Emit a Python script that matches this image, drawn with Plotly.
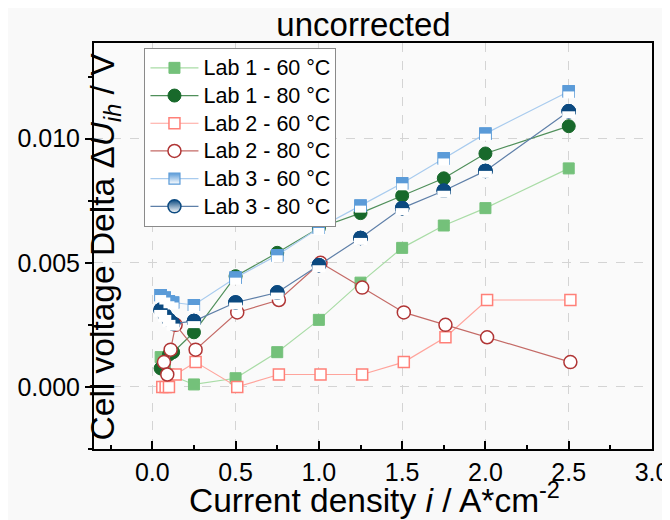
import plotly.graph_objects as go

# ---------------- data ----------------
i_lab1_60 = [0.05, 0.075, 0.1, 0.25, 0.5, 0.75, 1.0, 1.25, 1.5, 1.75, 2.0, 2.5]
u_lab1_60 = [0.0012, 0.0007, 0.0005, 0.0001, 0.00035, 0.0014, 0.0027, 0.0042, 0.0056, 0.0065, 0.0072, 0.0088]

i_lab1_80 = [0.05, 0.1, 0.125, 0.25, 0.5, 0.75, 1.0, 1.25, 1.5, 1.75, 2.0, 2.5]
u_lab1_80 = [0.00075, 0.0013, 0.0014, 0.0022, 0.00446, 0.0054, 0.0064, 0.0070, 0.0077, 0.0084, 0.0094, 0.0105]

i_lab2_60 = [0.06, 0.08, 0.1, 0.14, 0.26, 0.51, 0.76, 1.01, 1.26, 1.51, 1.76, 2.01, 2.51]
u_lab2_60 = [0.0, 0.0, 0.0, 0.0005, 0.001, 0.0, 0.0005, 0.0005, 0.0005, 0.001, 0.002, 0.0035, 0.0035]

i_lab2_80 = [0.07, 0.09, 0.11, 0.14, 0.26, 0.51, 0.76, 1.01, 1.26, 1.51, 1.76, 2.01, 2.51]
u_lab2_80 = [0.001, 0.0005, 0.0015, 0.0025, 0.0015, 0.003, 0.0035, 0.005, 0.004, 0.003, 0.0025, 0.002, 0.001]

i_lab3 = [0.05, 0.075, 0.1, 0.125, 0.25, 0.5, 0.75, 1.0, 1.25, 1.5, 1.75, 2.0, 2.5]
u_lab3_60 = [0.0037, 0.0036, 0.00345, 0.0034, 0.0033, 0.0044, 0.0053, 0.0064, 0.0073, 0.0082, 0.0092, 0.0102, 0.0119]
u_lab3_80 = [0.0031, 0.0029, 0.0027, 0.00255, 0.00265, 0.0034, 0.0038, 0.0049, 0.0060, 0.0072, 0.0079, 0.0087, 0.0111]

x_ticks = [0.0, 0.5, 1.0, 1.5, 2.0, 2.5, 3.0]
x_tick_text = ["0.0", "0.5", "1.0", "1.5", "2.0", "2.5", "3.0"]
y_ticks = [0.0, 0.005, 0.010]
y_tick_text = ["0.000", "0.005", "0.010"]

# ---------------- layout constants ----------------
W, H = 670, 520
ML, MR, MT, MB = 75, 9, 35, 79
X_RANGE = [-0.35, 3.0]
Y_RANGE = [-0.0025, 0.01385]
PLOT_W = W - ML - MR
PLOT_H = H - MT - MB
SHIFT_PX = 3.5
dy = SHIFT_PX * (Y_RANGE[1] - Y_RANGE[0]) / PLOT_H
Y2_RANGE = [Y_RANGE[0] + dy, Y_RANGE[1] + dy]

FONT = "Liberation Sans, Arial, sans-serif"
LEGEND_TEXT_PX = 21.5

fig = go.Figure()


def legend_name(name):
    return '<span style="font-size:%spx">%s</span>' % (LEGEND_TEXT_PX, name)


def simple_series(x, y, name, line_color, symbol, fill, edge, size, lw):
    fig.add_trace(go.Scatter(
        x=x, y=y, name=legend_name(name), mode="lines+markers",
        line=dict(color=line_color, width=1.2),
        marker=dict(symbol=symbol, size=size, color=fill,
                    line=dict(color=edge, width=lw)),
    ))


def half_series(x, y, name, line_color, symbol, color, size, lw):
    # legend + connecting line + marker (gradient gives the half look in the legend)
    fig.add_trace(go.Scatter(
        x=x, y=y, name=legend_name(name), mode="lines+markers",
        line=dict(color=line_color, width=1.2),
        marker=dict(symbol=symbol, size=size, color=color,
                    gradient=dict(type="vertical", color="white"),
                    line=dict(color=color, width=lw)),
    ))
    # per-point: full marker, white lower half, outline
    for xi, yi in zip(x, y):
        fig.add_trace(go.Scatter(
            x=[xi], y=[yi], mode="markers", showlegend=False, hoverinfo="skip",
            marker=dict(symbol=symbol, size=size, color=color,
                        line=dict(color=color, width=lw)),
        ))
        fig.add_trace(go.Scatter(
            x=[xi], y=[yi], mode="markers", showlegend=False, hoverinfo="skip",
            yaxis="y2",
            marker=dict(symbol="line-ew", size=size / 1.4, color="white",
                        line=dict(color="white", width=2 * SHIFT_PX)),
        ))
        fig.add_trace(go.Scatter(
            x=[xi], y=[yi], mode="markers", showlegend=False, hoverinfo="skip",
            marker=dict(symbol=symbol + "-open", size=size, color=color,
                        line=dict(color=color, width=lw)),
        ))


simple_series(i_lab1_60, u_lab1_60, "Lab 1 - 60 °C", "#a9dca6", "square", "#74c17a", "#74c17a", 11, 1)
simple_series(i_lab1_80, u_lab1_80, "Lab 1 - 80 °C", "#4f8f5a", "circle", "#18692b", "#18692b", 13, 1)
simple_series(i_lab2_60, u_lab2_60, "Lab 2 - 60 °C", "#ffa49c", "square", "white", "#ff8078", 11, 1.5)
simple_series(i_lab2_80, u_lab2_80, "Lab 2 - 80 °C", "#c46a66", "circle", "white", "#b03535", 13, 1.5)
half_series(i_lab3, u_lab3_60, "Lab 3 - 60 °C", "#a8cbee", "square", "#5b9bd8", 11, 1.2)
half_series(i_lab3, u_lab3_80, "Lab 3 - 80 °C", "#5e7fa8", "circle", "#0c4a80", 13, 1.5)

axis_common = dict(
    showline=True, linecolor="black", linewidth=2, mirror=True,
    showgrid=True, gridcolor="#d4d4d4", griddash="dash", gridwidth=1,
    zeroline=False, tickfont=dict(family=FONT, size=25, color="black"),
    tickcolor="black", tickwidth=1.5,
)

fig.update_layout(
    width=W, height=H,
    margin=dict(l=ML, r=MR, t=MT, b=MB),
    paper_bgcolor="#f9f9f9", plot_bgcolor="#fafafa",
    font=dict(family=FONT, color="black"),
    title=dict(text="uncorrected", x=(358 - ML) / PLOT_W, xref="paper", xanchor="center",
               y=1 - 16 / H, yref="container", yanchor="middle",
               font=dict(family=FONT, size=33, color="black")),
    xaxis=dict(range=X_RANGE, tickvals=x_ticks, ticktext=x_tick_text,
               ticks="inside", ticklen=8, ticklabeloverflow="allow",
               minor=dict(dtick=0.25, tick0=0, ticks="inside", ticklen=4, showgrid=False, tickcolor="black"),
               **axis_common),
    yaxis=dict(range=Y_RANGE, tickvals=y_ticks, ticktext=y_tick_text,
               ticks="outside", ticklen=7,
               minor=dict(dtick=0.0025, tick0=0, ticks="outside", ticklen=4, showgrid=False, tickcolor="black"),
               **axis_common),
    yaxis2=dict(range=Y2_RANGE, overlaying="y", visible=False, showgrid=False, zeroline=False),
    legend=dict(x=(128 - ML) / PLOT_W, y=(H - MB - 40) / PLOT_H,
                xanchor="left", yanchor="top",
                bgcolor="white", bordercolor="#8a8a8a", borderwidth=1,
                font=dict(family=FONT, size=19, color="black"),
                itemwidth=48, tracegroupgap=0),
    showlegend=True,
)

fig.add_annotation(
    text="Current density <i>i</i> / A*cm<sup>-2</sup>",
    xref="paper", yref="paper", x=(370 - ML) / PLOT_W, y=-(490 - (H - MB)) / PLOT_H,
    xanchor="center", yanchor="middle", showarrow=False,
    font=dict(family=FONT, size=33.5, color="black"),
)
fig.add_annotation(
    text="Cell voltage Delta Δ<i>U<sub>ih</sub></i> / V",
    xref="paper", yref="paper", x=(87 - ML) / PLOT_W, y=0.5,
    xanchor="center", yanchor="middle", textangle=-90, showarrow=False,
    font=dict(family=FONT, size=33.5, color="black"),
)

fig.write_html("out.html")
